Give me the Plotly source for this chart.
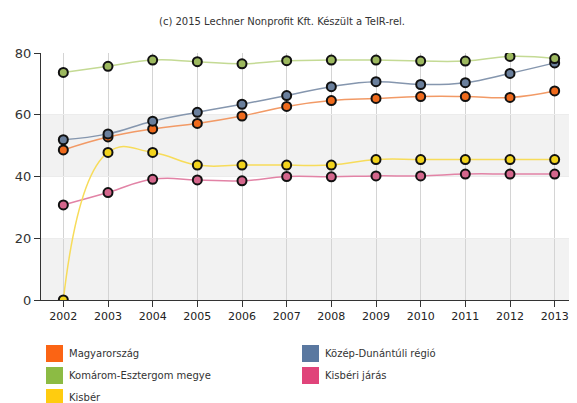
import plotly.graph_objects as go

# --- data -------------------------------------------------------------------
years = list(range(2002, 2014))

magyarorszag = [48.6, 52.8, 55.4, 57.2, 59.6, 62.7, 64.6, 65.3, 65.9, 65.9, 65.6, 67.7]
kozep_dunantul = [51.9, 53.8, 57.9, 60.8, 63.4, 66.2, 69.1, 70.7, 69.8, 70.4, 73.4, 76.8]
komarom = [73.7, 75.7, 77.7, 77.2, 76.5, 77.5, 77.7, 77.7, 77.4, 77.4, 78.9, 78.2]
kisber = [0.0, 47.8, 47.8, 43.7, 43.7, 43.7, 43.7, 45.5, 45.5, 45.5, 45.5, 45.5]
kisberi_jaras = [30.8, 34.8, 39.1, 38.9, 38.6, 40.0, 39.9, 40.2, 40.2, 40.8, 40.8, 40.8]

series_names = ["Magyarország", "Közép-Dunántúli régió", "Komárom-Esztergom megye",
                "Kisbéri járás", "Kisbér"]
y_ticks = [0, 20, 40, 60, 80]

# --- style ------------------------------------------------------------------
FONT = "Verdana, DejaVu Sans, sans-serif"
# name: (line colour, marker fill, legend swatch)
STYLE = {
    "Magyarország": ("#f29a66", "#ef6a1c", "#fb6414"),
    "Közép-Dunántúli régió": ("#8596ae", "#6a7f9c", "#5a78a0"),
    "Komárom-Esztergom megye": ("#c4da94", "#9cb85e", "#8cbb44"),
    "Kisbéri járás": ("#e283a6", "#d4668c", "#e0447a"),
    "Kisbér": ("#f7dc5a", "#f2d31c", "#ffcc0f"),
}
values = {
    "Magyarország": magyarorszag,
    "Közép-Dunántúli régió": kozep_dunantul,
    "Komárom-Esztergom megye": komarom,
    "Kisbéri járás": kisberi_jaras,
    "Kisbér": kisber,
}
draw_order = ["Kisbéri járás", "Kisbér", "Magyarország",
              "Közép-Dunántúli régió", "Komárom-Esztergom megye"]

fig = go.Figure()
for name in draw_order:
    line_c, fill_c, _ = STYLE[name]
    fig.add_trace(go.Scatter(
        x=years, y=values[name],
        mode="lines+markers",
        name=name,
        line=dict(color=line_c, width=1.5, shape="spline", smoothing=1.3),
        marker=dict(size=9, color=fill_c, line=dict(color="#111111", width=2)),
        showlegend=False,
    ))

# alternating background bands
shapes = []
for lo, hi in [(0, 20), (40, 60)]:
    shapes.append(dict(type="rect", xref="paper", yref="y", x0=0, x1=1, y0=lo, y1=hi,
                       fillcolor="#f2f2f2", line=dict(width=0), layer="below"))

# the page body has an 8px margin, so the figure is offset by that much
OFF = 8
W, H = 577 - OFF, 403 - OFF
L, R, T, B = 41 - OFF, 0, 53 - OFF, 103
pw, ph = W - L - R, H - T - B


def px(x):  # page pixel -> paper
    return (x - OFF - L) / pw


def py(y):
    return (H - B - (y - OFF)) / ph


# legend drawn by hand: 2 columns, row-wise
annotations = []
col_x = [46, 302]
row_y = [345, 367, 389]
for i, name in enumerate(series_names):
    cx = col_x[i % 2]
    ry = row_y[i // 2]
    shapes.append(dict(type="rect", xref="paper", yref="paper",
                       x0=px(cx), x1=px(cx + 17), y0=py(ry), y1=py(ry + 17),
                       fillcolor=STYLE[name][2], line=dict(width=0)))
    annotations.append(dict(text=name, xref="paper", yref="paper",
                            x=px(cx + 21), y=py(ry + 8.5), xanchor="left", yanchor="middle",
                            showarrow=False, font=dict(family=FONT, size=10, color="#333333")))

fig.update_layout(
    width=W, height=H,
    margin=dict(l=L, r=R, t=T, b=B),
    paper_bgcolor="white",
    plot_bgcolor="white",
    font=dict(family=FONT, color="#333333"),
    title=dict(text="(c) 2015 Lechner Nonprofit Kft. Készült a TeIR-rel.",
               x=(282 - OFF) / W, xanchor="center", y=1 - (21 - OFF) / H, yanchor="middle",
               font=dict(family=FONT, size=10, color="#333333")),
    shapes=shapes,
    annotations=annotations,
    showlegend=False,
    xaxis=dict(
        range=[2001.5, 2013.5], tickvals=years, ticktext=[str(y) for y in years],
        showgrid=True, gridcolor="#d4d4d4", gridwidth=1,
        showline=True, linecolor="#333333", linewidth=1,
        ticks="outside", ticklen=6, tickcolor="#333333",
        tickfont=dict(family=FONT, size=11, color="#222222"),
        zeroline=False, fixedrange=True,
    ),
    yaxis=dict(
        range=[0, 80], tickvals=y_ticks,
        showgrid=True, gridcolor="#ececec",
        showline=True, linecolor="#333333", linewidth=1,
        ticks="outside", ticklen=6, tickcolor="#333333",
        tickfont=dict(family=FONT, size=13, color="#333333"),
        zeroline=False, fixedrange=True,
    ),
)

fig.write_html("out.html", config=dict(displayModeBar=False))
